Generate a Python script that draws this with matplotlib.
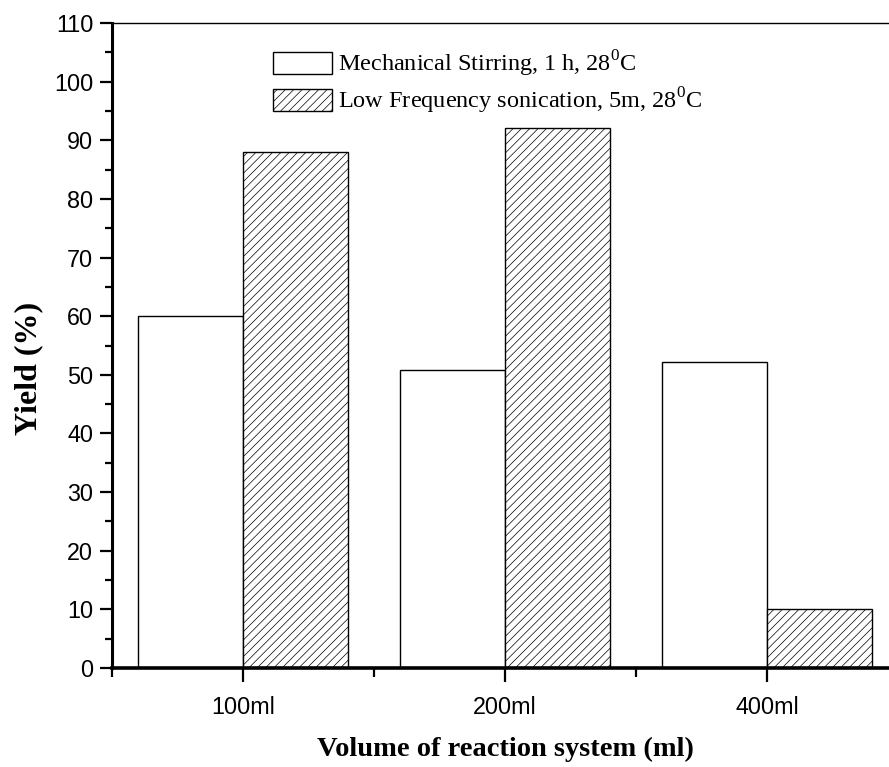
import numpy as np
import matplotlib
matplotlib.use('Agg')
import matplotlib.pyplot as plt
from matplotlib.ticker import MultipleLocator, FixedLocator

plt.rcParams['mathtext.fontset'] = 'custom'
plt.rcParams['mathtext.rm'] = 'Liberation Serif'
plt.rcParams['hatch.linewidth'] = 0.5
plt.rcParams['hatch.color'] = '#555555'

# Yield data for each reaction volume
volumes = ['100ml', '200ml', '400ml']
stirring = [60.0, 50.8, 52.2]
sonication = [88.0, 92.1, 10.0]
labels = ['Mechanical Stirring, 1 h, 28$^0$C',
          'Low Frequency sonication, 5m, 28$^0$C']

fig = plt.figure(figsize=(8.89, 7.67), dpi=100)
ax = fig.add_axes([112 / 889, 99 / 767, 786 / 889, 645 / 767])

x = np.arange(1, len(volumes) + 1)
w = 0.4
ax.bar(x - w / 2, stirring, w, color='white', edgecolor='black',
       linewidth=1.0, label=labels[0])
ax.bar(x + w / 2, sonication, w, color='white', edgecolor='black',
       linewidth=1.0, hatch='////', label=labels[1])

ax.set_xlim(0.5, 3.5)
ax.set_ylim(0, 110)
ax.set_xticks(x)
ax.set_xticklabels(volumes, fontfamily='Liberation Sans', fontsize=16.8)
ax.xaxis.set_minor_locator(FixedLocator([0.5, 1.5, 2.5]))
ax.yaxis.set_major_locator(MultipleLocator(10))
ax.yaxis.set_minor_locator(MultipleLocator(5))
for t in ax.get_yticklabels():
    t.set_fontfamily('Liberation Sans')
    t.set_fontsize(16.8)

ax.tick_params(axis='y', which='major', direction='out', length=8.5, width=1.6, pad=5)
ax.tick_params(axis='y', which='minor', direction='out', length=5, width=1.6)
ax.tick_params(axis='x', which='major', direction='out', length=10, width=1.6, pad=10)
ax.tick_params(axis='x', which='minor', direction='out', length=6.5, width=1.6)

ax.spines['left'].set_linewidth(2.2)
ax.spines['bottom'].set_linewidth(2.6)
ax.spines['top'].set_linewidth(1.0)
ax.spines['right'].set_visible(False)

ax.set_xlabel('Volume of reaction system (ml)', fontfamily='Liberation Serif',
              fontweight='bold', fontsize=20.5)
ax.set_ylabel('Yield (%)', fontfamily='Liberation Serif',
              fontweight='bold', fontsize=23)
ax.xaxis.set_label_coords(0.5, -0.107)
ax.yaxis.set_label_coords(-0.088, 0.465)

ax.legend(loc='upper left', bbox_to_anchor=(0.189, 0.979), frameon=False,
          prop={'family': 'Liberation Serif', 'size': 17.5},
          handlelength=2.45, handleheight=1.0, handletextpad=0.25,
          labelspacing=0.26, borderpad=0)

fig.savefig('out.png', dpi=100)
